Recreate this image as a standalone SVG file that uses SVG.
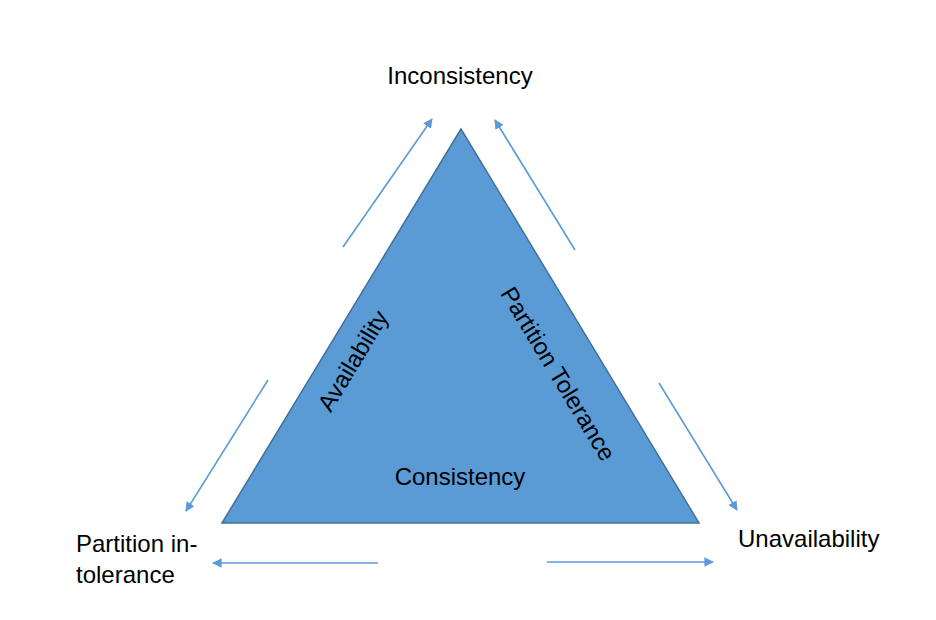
<svg xmlns="http://www.w3.org/2000/svg" width="936" height="620" viewBox="0 0 936 620">
<defs>
<marker id="ah" viewBox="0 0 10 10" refX="9" refY="5" markerWidth="6" markerHeight="6" orient="auto" markerUnits="strokeWidth">
<path d="M0,0 L10,5 L0,10 z" fill="#5b9bd5"/>
</marker>
<style>
.lbl{font-family:"Liberation Sans",Arial,sans-serif;font-size:24px;fill:#000}
.arr{stroke:#5b9bd5;stroke-width:1.6;fill:none;marker-end:url(#ah)}
</style>
</defs>
<rect width="936" height="620" fill="#fff"/>
<g id="triangle">
<polygon points="461,129 222,523 699,523" fill="#5b9bd5" stroke="#41719c" stroke-width="1.5"/>
<text class="lbl" x="460" y="485" text-anchor="middle">Consistency</text>
<text class="lbl" transform="translate(360,365) rotate(-58.8)" text-anchor="middle">Availability</text>
<text class="lbl" transform="translate(551,378) rotate(58.8)" text-anchor="middle">Partition Tolerance</text>
</g>
<g id="inconsistency"><text class="lbl" x="460" y="84" text-anchor="middle">Inconsistency</text></g>
<g id="unavailability"><text class="lbl" x="738" y="547">Unavailability</text></g>
<g id="partition-intolerance"><text class="lbl" x="76" y="552">Partition in-</text><text class="lbl" x="76" y="583">tolerance</text></g>
<g id="connectors">
<line class="arr" x1="343" y1="247" x2="432" y2="119"/>
<line class="arr" x1="575" y1="250" x2="495" y2="120"/>
<line class="arr" x1="268" y1="380" x2="186" y2="511"/>
<line class="arr" x1="659" y1="383" x2="737" y2="510"/>
<line class="arr" x1="378" y1="563" x2="213" y2="563"/>
<line class="arr" x1="547" y1="562" x2="713" y2="562"/>
</g>
</svg>
